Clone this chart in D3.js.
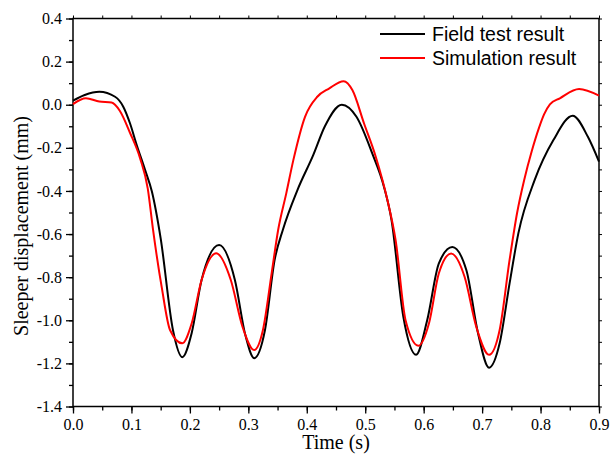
<!DOCTYPE html>
<html><head><meta charset="utf-8">
<script src="https://cdn.jsdelivr.net/npm/d3@7"></script>
<style>body{margin:0;background:#fff}svg{display:block}</style>
</head><body>
<svg id="c" width="614" height="455"></svg>
<script>
const fieldTime = [0, 0.02, 0.045, 0.072, 0.086, 0.0975, 0.109, 0.123, 0.135, 0.15, 0.171, 0.187, 0.203, 0.22, 0.25, 0.277, 0.295, 0.31, 0.3285, 0.345, 0.359, 0.384, 0.411, 0.431, 0.46, 0.485, 0.512, 0.532, 0.545, 0.565, 0.587, 0.606, 0.626, 0.649, 0.673, 0.693, 0.712, 0.73, 0.747, 0.762, 0.79, 0.822, 0.855, 0.881, 0.9];
const fieldValues = [0.019, 0.045, 0.060, 0.037, -0.009, -0.086, -0.187, -0.30, -0.403, -0.62, -1.045, -1.171, -1.06, -0.813, -0.651, -0.813, -1.07, -1.176, -1.045, -0.72, -0.581, -0.396, -0.234, -0.1, 0.0, -0.056, -0.226, -0.38, -0.535, -0.98, -1.16, -1.0, -0.736, -0.66, -0.767, -1.06, -1.22, -1.107, -0.829, -0.597, -0.349, -0.164, -0.051, -0.149, -0.264];
const simTime = [0, 0.022, 0.045, 0.066, 0.08, 0.0975, 0.115, 0.128, 0.137, 0.152, 0.166, 0.187, 0.203, 0.22, 0.245, 0.27, 0.29, 0.31, 0.325, 0.34, 0.351, 0.365, 0.377, 0.397, 0.418, 0.438, 0.463, 0.478, 0.498, 0.518, 0.538, 0.552, 0.569, 0.591, 0.609, 0.626, 0.647, 0.67, 0.69, 0.712, 0.73, 0.747, 0.76, 0.772, 0.785, 0.797, 0.806, 0.816, 0.833, 0.866, 0.9];
const simValues = [0.003, 0.03, 0.015, 0.01, -0.028, -0.13, -0.25, -0.39, -0.581, -0.85, -1.045, -1.107, -1.015, -0.813, -0.689, -0.813, -1.03, -1.138, -1.045, -0.78, -0.581, -0.41, -0.257, -0.056, 0.037, 0.075, 0.109, 0.068, -0.087, -0.241, -0.442, -0.628, -1.0, -1.118, -1.015, -0.782, -0.69, -0.798, -1.03, -1.16, -1.045, -0.72, -0.50, -0.349, -0.215, -0.11, -0.045, 0.002, 0.03, 0.073, 0.042];
const xTicks = [0, 0.1, 0.2, 0.3, 0.4, 0.5, 0.6, 0.7, 0.8, 0.9];
const yTicks = [0.4, 0.2, 0, -0.2, -0.4, -0.6, -0.8, -1.0, -1.2, -1.4];
const seriesNames = ["Field test result", "Simulation result"];
const seriesColors = ["#000000", "#ff0000"];

const svg = d3.select("#c");
const x = d3.scaleLinear().domain([0, 0.9]).range([73, 599]);
const y = d3.scaleLinear().domain([-1.4, 0.4]).range([406.5, 18.5]);
const serif = "'Liberation Serif','Times New Roman',serif";
const sans = "'Liberation Sans',Arial,sans-serif";
const fmt = d => d3.format(".1f")(d).replace("\u2212", "-");

const xMinor = d3.range(0, 0.9001, 0.05);
const yMinor = d3.range(-1.4, 0.4001, 0.1);

// bottom axis
const gx = svg.append("g").attr("transform", `translate(0,${y(-1.4)})`)
  .call(d3.axisBottom(x).tickValues(xMinor).tickSize(4).tickFormat(""));
gx.select(".domain").remove();
gx.selectAll("line").attr("stroke-width", 1.3);
const gx2 = svg.append("g").attr("transform", `translate(0,${y(-1.4)})`)
  .call(d3.axisBottom(x).tickValues(xTicks).tickSize(7).tickPadding(5).tickFormat(fmt));
gx2.select(".domain").remove();
gx2.selectAll("line").attr("stroke-width", 1.3);
gx2.selectAll("text").attr("font-family", serif).attr("font-size", 16).attr("fill", "#000");

// left axis
const gy = svg.append("g").attr("transform", `translate(${x(0)},0)`)
  .call(d3.axisLeft(y).tickValues(yMinor).tickSize(4).tickFormat(""));
gy.select(".domain").remove();
gy.selectAll("line").attr("stroke-width", 1.3);
const gy2 = svg.append("g").attr("transform", `translate(${x(0)},0)`)
  .call(d3.axisLeft(y).tickValues(yTicks).tickSize(7).tickPadding(4).tickFormat(fmt));
gy2.select(".domain").remove();
gy2.selectAll("line").attr("stroke-width", 1.3);
gy2.selectAll("text").attr("font-family", serif).attr("font-size", 16).attr("fill", "#000");

// top & right small ticks
const gt = svg.append("g").attr("transform", `translate(0,${y(0.4)})`)
  .call(d3.axisTop(x).tickValues(xMinor).tickSize(3).tickFormat(""));
gt.select(".domain").remove();
gt.selectAll("line").attr("stroke-width", 1);
const gr = svg.append("g").attr("transform", `translate(${x(0.9)},0)`)
  .call(d3.axisRight(y).tickValues(yMinor).tickSize(3).tickFormat(""));
gr.select(".domain").remove();
gr.selectAll("line").attr("stroke-width", 1);

// frame
svg.append("rect").attr("x", x(0)).attr("y", y(0.4))
  .attr("width", x(0.9) - x(0)).attr("height", y(-1.4) - y(0.4))
  .attr("fill", "none").attr("stroke", "#000").attr("stroke-width", 1.5);

// lines
const line = d3.line().x(d => x(d[0])).y(d => y(d[1])).curve(d3.curveMonotoneX);
const fieldData = fieldTime.map((t, i) => [t, fieldValues[i]]);
const simData = simTime.map((t, i) => [t, simValues[i]]);
svg.append("path").datum(fieldData).attr("d", line).attr("fill", "none")
  .attr("stroke", seriesColors[0]).attr("stroke-width", 2);
svg.append("path").datum(simData).attr("d", line).attr("fill", "none")
  .attr("stroke", seriesColors[1]).attr("stroke-width", 2);

// legend
seriesNames.forEach((n, i) => {
  const ly = 34 + i * 24;
  svg.append("line").attr("x1", 380).attr("x2", 425).attr("y1", ly).attr("y2", ly)
    .attr("stroke", seriesColors[i]).attr("stroke-width", 2);
  svg.append("text").attr("x", 432).attr("y", ly + 7).text(n)
    .attr("font-family", sans).attr("font-size", 19.5).attr("fill", "#000");
});

// axis titles
svg.append("text").attr("x", (x(0) + x(0.9)) / 2).attr("y", 449).attr("text-anchor", "middle")
  .attr("font-family", serif).attr("font-size", 20).text("Time (s)");
svg.append("text").attr("transform", "translate(28,226) rotate(-90)").attr("text-anchor", "middle")
  .attr("font-family", serif).attr("font-size", 20).text("Sleeper displacement (mm)");
</script>
</body></html>
